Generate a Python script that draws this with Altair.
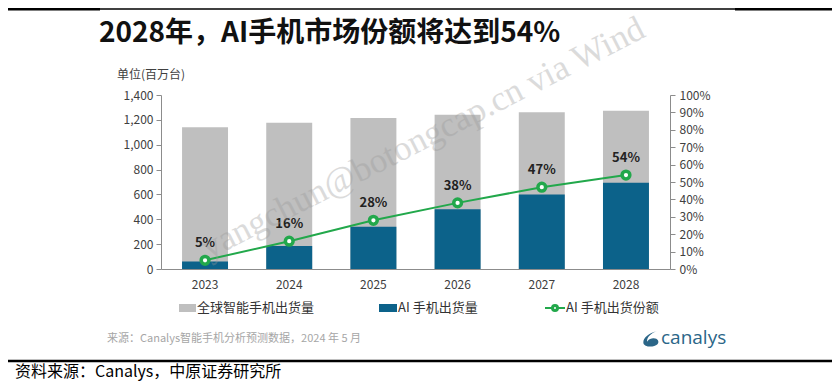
import altair as alt
import pandas as pd

# ---- data ----
years = ["2023", "2024", "2025", "2026", "2027", "2028"]
total_shipments = [1140, 1177, 1215, 1242, 1261, 1274]   # 全球智能手机出货量 (百万台)
ai_shipments = [60, 185, 340, 480, 600, 694]             # AI 手机出货量 (百万台)
ai_share = [0.05, 0.16, 0.28, 0.38, 0.47, 0.54]          # AI 手机出货份额
left_ticks = [0, 200, 400, 600, 800, 1000, 1200, 1400]
right_ticks = [0.0, 0.1, 0.2, 0.3, 0.4, 0.5, 0.6, 0.7, 0.8, 0.9, 1.0]

title_text = "2028年，AI手机市场份额将达到54%"
unit_text = "单位(百万台)"
legend_labels = ["全球智能手机出货量", "AI 手机出货量", "AI 手机出货份额"]
source_text = "来源：Canalys智能手机分析预测数据，2024 年 5 月"
footer_text = "资料来源：Canalys，中原证券研究所"
watermark_text = "yangchun@botongcap.cn via Wind"

df = pd.DataFrame({"year": years, "total": total_shipments,
                   "ai": ai_shipments, "share": ai_share})

FONT = "Noto Sans CJK SC"
GRAY = "#bfbfbf"
BLUE = "#0c628a"
GREEN = "#22a84b"
AXC = "#8c8c8c"

xenc = alt.X("year:N", sort=years,
             scale=alt.Scale(paddingInner=0.454, paddingOuter=0.25),
             axis=alt.Axis(title=None, ticks=False, domainColor=AXC, labelColor="#404040",
                           labelFontSize=12, labelPadding=10, labelAngle=0, labelFont=FONT))

left_axis = alt.Axis(title=None, values=left_ticks, format=",.0f", grid=False,
                     domainColor=AXC, tickColor=AXC, tickSize=5, labelPadding=3,
                     labelColor="#404040", labelFontSize=12, labelFont=FONT)
yscale_left = alt.Scale(domain=[0, 1400])

gray = alt.Chart(df).mark_bar(color=GRAY).encode(
    x=xenc, y=alt.Y("total:Q", scale=yscale_left, axis=left_axis))
blue = alt.Chart(df).mark_bar(color=BLUE).encode(
    x=xenc, y=alt.Y("ai:Q", scale=yscale_left, axis=left_axis))

right_axis = alt.Axis(title=None, orient="right", values=right_ticks, format=".0%", grid=False,
                      domainColor=AXC, tickColor=AXC, tickSize=5, labelPadding=4,
                      labelColor="#404040", labelFontSize=12, labelFont=FONT)
yright = alt.Y("share:Q", scale=alt.Scale(domain=[0, 1]), axis=right_axis)

line = alt.Chart(df).mark_line(color=GREEN, strokeWidth=2).encode(x=xenc, y=yright)
pts = alt.Chart(df).mark_circle(fill="white", stroke=GREEN, strokeWidth=3.5, size=60, opacity=1).encode(
    x=xenc, y=yright)
labels = alt.Chart(df).mark_text(dy=-17, fontSize=13, fontWeight="bold", color="#222222", font=FONT).encode(
    x=xenc, y=yright, text=alt.Text("share:Q", format=".0%"))

one = pd.DataFrame({"k": [0]})


def txt(s, x, y, **kw):
    base = dict(align="left", baseline="middle", font=FONT)
    base.update(kw)
    return alt.Chart(one).mark_text(text=s, **base).encode(x=alt.value(x), y=alt.value(y))


def rect(x1, x2, y1, y2, color):
    return alt.Chart(one).mark_rect(color=color).encode(
        x=alt.value(x1), x2=alt.value(x2), y=alt.value(y1), y2=alt.value(y2))


def hline(x1, x2, y, w, color="black"):
    return alt.Chart(one).mark_rule(color=color, strokeWidth=w).encode(
        x=alt.value(x1), x2=alt.value(x2), y=alt.value(y))


decor = [
    hline(-161, 671, -86, 1.5),
    rect(-161, -61, -87, -84.5, "black"),
    rect(574, 671, -87, -84.5, "black"),
    txt(title_text, -62, -53, baseline="alphabetic", fontSize=28, fontWeight="bold", color="#111111"),
    txt(unit_text, -44, -20, fontSize=12, color="#404040"),
    # legend
    rect(18, 35, 209, 217, GRAY),
    txt(legend_labels[0], 36, 213, fontSize=13, color="#333333"),
    rect(218, 236, 209, 217, BLUE),
    txt(legend_labels[1], 237, 213, fontSize=13, color="#333333"),
    alt.Chart(one).mark_rule(color=GREEN, strokeWidth=2).encode(
        x=alt.value(384), x2=alt.value(404), y=alt.value(213)),
    alt.Chart(one).mark_circle(fill="white", stroke=GREEN, strokeWidth=3, size=25, opacity=1).encode(
        x=alt.value(394), y=alt.value(213)),
    txt(legend_labels[2], 405, 213, fontSize=13, color="#333333"),
    # source line and logo
    txt(source_text, -54, 244, fontSize=11, color="#a6a6a6"),
    alt.Chart(one).mark_point(
        shape="M0.7,-0.95 C-0.2,-0.8 -1,-0.1 -0.95,0.45 C-0.9,1 0.3,1.1 0.8,0.65 "
              "C1.1,0.3 0.8,-0.15 0.25,-0.1 C-0.15,-0.05 -0.4,0.15 -0.5,0.35 "
              "C-0.5,-0.25 0,-0.7 0.7,-0.95 Z",
        filled=True, color="#2b6688", size=260, opacity=1).encode(
        x=alt.value(490), y=alt.value(244)),
    txt("canalys", 500, 243, fontSize=19, color="#2b6688", font="Open Sans"),
    # footer
    hline(-161, 679, 266, 2.5),
    txt(footer_text, -146, 277, fontSize=16, color="#000000"),
    # watermark
    txt(watermark_text, 262, 43, align="center", angle=333, fontSize=35,
        font="Liberation Serif", color="#9a9a9a", opacity=0.35),
]

chart = alt.layer(
    alt.layer(gray, blue),
    alt.layer(line, pts, labels),
    *decor
).resolve_scale(y="independent").properties(
    width=509, height=174,
    autosize=alt.AutoSizeParams(type="none"),
    padding={"left": 153, "top": 87, "right": 162, "bottom": 120},
    background="white",
).configure_view(stroke=None)

chart.save("out.html", embed_options={"renderer": "svg", "actions": False})
